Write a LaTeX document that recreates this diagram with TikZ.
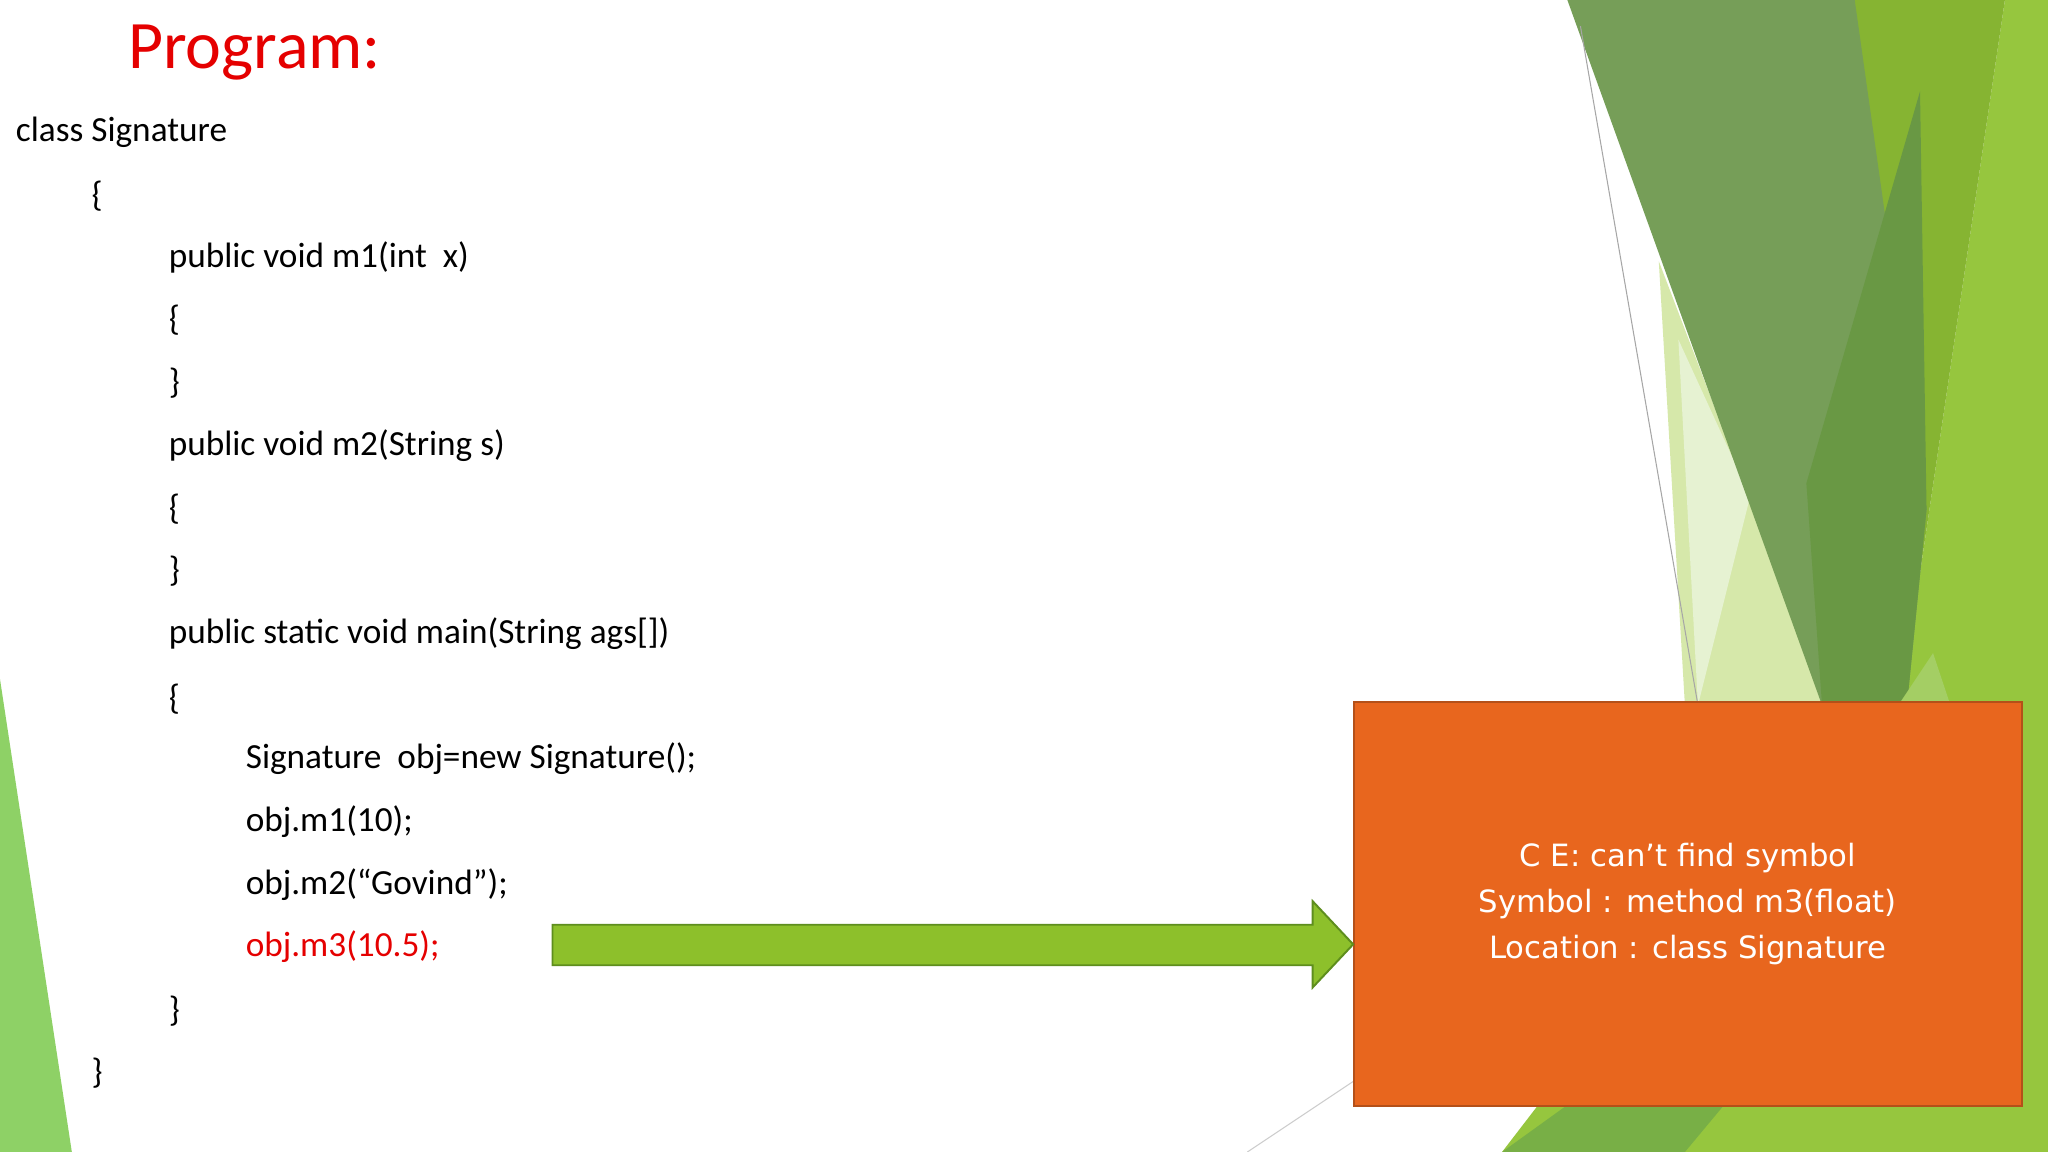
\documentclass[tikz,border=0pt]{standalone}
\usepackage{fontspec}
\setmainfont{Carlito}
\newfontfamily\boxfont{DejaVu Sans}
\begin{document}
\begin{tikzpicture}[x=1pt,y=-1pt,
  code/.style={anchor=west,inner sep=0pt,font=\fontsize{27}{30}\selectfont,text=black},
  title/.style={anchor=west,inner sep=0pt,font=\fontsize{52}{56}\selectfont,text=red!90!black}]
\fill[white] (0,0) rectangle (1568,882);
\useasboundingbox (0,0) rectangle (1568,882);
% background shapes
\fill[green!50!lime!70!black!60] (0,520) -- (55,882) -- (0,882) -- cycle;
\fill[color={rgb,255:red,150;green,198;blue,62}] (1535,0) -- (1568,0) -- (1568,882) -- (1150,882) -- (1290,700) -- (1455,540) -- cycle;
\fill[color={rgb,255:red,214;green,232;blue,170}] (1270,200) -- (1400,540) -- (1290,540) -- cycle;
\fill[color={rgb,255:red,230;green,242;blue,210}] (1285,260) -- (1340,380) -- (1300,540) -- cycle;
\fill[color={rgb,255:red,134;green,180;blue,50}] (1410,0) -- (1535,0) -- (1455,540) -- (1440,400) -- cycle;
\fill[color={rgb,255:red,118;green,158;blue,88}] (1200,0) -- (1420,0) -- (1475,390) -- (1460,540) -- (1395,540) -- cycle;
\fill[color={rgb,255:red,105;green,152;blue,68}] (1470,70) -- (1475,390) -- (1460,540) -- (1395,540) -- (1383,370) -- cycle;
\fill[color={rgb,255:red,164;green,206;blue,100}] (1440,560) -- (1480,500) -- (1500,560) -- cycle;
\fill[color={rgb,255:red,120;green,175;blue,70}] (1150,882) -- (1200,846) -- (1320,846) -- (1290,882) -- cycle;
\coordinate (l1) at (1210,20); \coordinate (l2) at (1300,540);
\draw[gray!70,line width=0.8] (l1) -- (l2);
\coordinate (l3) at (955,882); \coordinate (l4) at (1036,828);
\draw[gray!40,line width=0.8] (l3) -- (l4);
% title
\node[title] (t) at (98,40) {Program:};
% code
\node[code] (c1) at (12,101) {class Signature};
\node[code] (c2) at (70,150) {\{};
\node[code] (c3) at (129,197) {public void m1(int\ \ x)};
\node[code] (c4) at (129,245) {\{};
\node[code] (c5) at (129,293) {\}};
\node[code] (c6) at (129,341) {public void m2(String s)};
\node[code] (c7) at (129,390) {\{};
\node[code] (c8) at (129,437) {\}};
\node[code] (c9) at (129,485) {public static void main(String ags[])};
\node[code] (c10) at (129,535) {\{};
\node[code] (c11) at (188,581) {Signature\ \ obj=new Signature();};
\node[code] (c12) at (188,629) {obj.m1(10);};
\node[code] (c13) at (188,677) {obj.m2(“Govind”);};
\node[code,text=red!90!black] (c14) at (188,725) {obj.m3(10.5);};
\node[code] (c15) at (129,774) {\}};
\node[code] (c16) at (70,822) {\}};
% box
\node[draw={rgb,255:red,180;green,80;blue,25},line width=1.5,fill={rgb,255:red,232;green,102;blue,30},minimum width=511,minimum height=309,inner sep=0pt,anchor=north west,text=white,align=center,font=\boxfont\fontsize{23.5}{35}\selectfont] (box) at (1036,537)
 {C E: can’t find symbol\\Symbol : method m3(float)\\Location : class Signature};
% arrow
\coordinate (a0) at (423,723);
\draw[line width=1.5,draw={rgb,255:red,94;green,142;blue,30},fill={rgb,255:red,141;green,192;blue,43},line join=miter]
 (a0) ++(0,-15) -- (1005,708) -- (1005,690) -- (box.west |- a0) -- (1005,756) -- (1005,739) -- (423,739) -- cycle;
\end{tikzpicture}
\end{document}
